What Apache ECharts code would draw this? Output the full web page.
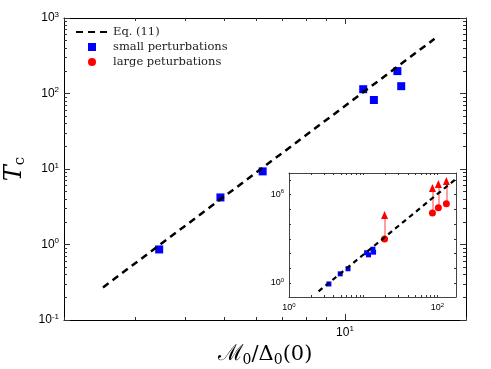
<!DOCTYPE html>
<html>
<head>
<meta charset="utf-8">
<title>Tc vs M0/Delta0</title>
<script src="https://cdn.jsdelivr.net/npm/echarts@6/dist/echarts.min.js"></script>
<style>
    html, body { margin: 0; padding: 0; background: #fff; }
    #chart { width: 491px; height: 369px; }
</style>
</head>
<body>
<div id="chart"></div>
<script>
// Eq. (11), main panel
var eqX = [2.5, 16.7];
var eqY = [0.27, 530];
// small perturbations (blue squares)
var smallX = [3.45, 4.9, 6.24, 11.1, 11.8, 13.5, 13.8];
var smallY = [0.86, 4.2, 9.3, 114, 82, 198, 125];
// Eq. (11), inset
var eqInsetX = [2.5, 178];
var eqInsetY = [0.27, 1.2e7];
// large peturbations (red circles) + arrow heads
var largeX = [19.4, 85.7, 103, 132];
var largeY = [980, 5.8e4, 1.3e5, 2.4e5];
var arrowY = [4.2e4, 2.9e6, 5.4e6, 8.7e6];

// tick values
var mainXMajor = [10];
var mainXMinor = [2, 3, 4, 5, 6, 7, 8, 9, 20];
var mainYMajor = [0.1, 1, 10, 100, 1000];
var insetXLabels = [1, 100];
var insetYLabels = [1, 1e6];

function minorsOf(lo, hi) {
    var out = [];
    for (var d = lo; d < hi; d *= 10)
        for (var k = 2; k <= 9; k++) out.push(d * k);
    return out;
}
var mainYMinor = minorsOf(0.1, 1000);
var insetXMinor = minorsOf(1, 100).concat([1, 10, 100]);
var insetYMinor = [1, 10, 100, 1000, 1e4, 1e5, 1e6, 1e7];

function zip(a, b) {
    var r = [];
    for (var i = 0; i < a.length; i++) r.push([a[i], b[i]]);
    return r;
}

function powLabel(v) {
    var e = Math.round(Math.log10(v));
    return '{b|10}{e|' + e + '}';
}
function powRich(size) {
    return {
        b: { fontSize: size, fontFamily: 'Liberation Sans', color: '#000', lineHeight: size + 3 },
        e: { fontSize: Math.round(size * 0.65), fontFamily: 'Liberation Sans', color: '#000',
             verticalAlign: 'top', lineHeight: Math.round(size * 0.65) }
    };
}

// one log axis, pass in what differs
function logAxis(grid, pos, min, max, ticks, len, labels, size, color, extra) {
    var ax = {
        type: 'log', logBase: 10, gridIndex: grid, position: pos,
        min: min, max: max,
        splitLine: { show: false },
        axisLine: { show: !!color, lineStyle: { color: color || '#000', width: 1 } },
        axisTick: { show: true, inside: true, length: len, customValues: ticks,
                    lineStyle: { color: '#333', width: 1 } },
        axisLabel: labels ? { show: true, customValues: labels, formatter: powLabel,
                              rich: powRich(size), margin: 5 } : { show: false }
    };
    for (var k in extra) ax[k] = extra[k];
    return ax;
}

var chart = echarts.init(document.getElementById('chart'));

var arrowLines = [];
for (var i = 0; i < largeX.length; i++) {
    arrowLines.push({ coords: [[largeX[i], largeY[i]], [largeX[i], arrowY[i]]] });
}

var option = {
    backgroundColor: '#fff',
    animation: false,
    grid: [
        { left: 64, top: 18, width: 402, height: 302, show: false,
          containLabel: false, outerBoundsMode: 'none' },
        { left: 289, top: 173, width: 167, height: 124, show: true,
          backgroundColor: '#fff', borderWidth: 0,
          containLabel: false, outerBoundsMode: 'none' }
    ],
    legend: {
        orient: 'vertical', left: 70, top: 21,
        itemWidth: 32, itemHeight: 8, itemGap: 3,
        textStyle: { fontFamily: 'DejaVu Serif', fontSize: 11.5, color: '#222' },
        data: [
            { name: 'Eq. (11)', itemStyle: { opacity: 0 } },
            { name: 'small perturbations', icon: 'path://M0,0h10v10h-10z' },
            { name: 'large peturbations', icon: 'circle' }
        ]
    },
    xAxis: [
        logAxis(0, 'bottom', 2, 20, mainXMajor, 6, mainXMajor, 12, '#000', {
            name: '{m|\u2133}{s|0}{n|/\u0394}{s|0}{n|(0)}',
            nameLocation: 'middle', nameGap: 18,
            nameTextStyle: { rich: {
                m: { fontFamily: 'DejaVu Serif', fontSize: 22, color: '#000', lineHeight: 26 },
                n: { fontFamily: 'DejaVu Serif', fontSize: 21, color: '#000', lineHeight: 26 },
                s: { fontFamily: 'DejaVu Serif', fontSize: 14, color: '#000', lineHeight: 14, verticalAlign: 'bottom' }
            } }
        }),
        logAxis(0, 'bottom', 2, 20, mainXMinor, 3, null, 0, null),
        logAxis(0, 'top', 2, 20, mainXMajor, 6, null, 0, '#000'),
        logAxis(0, 'top', 2, 20, mainXMinor, 3, null, 0, null),
        logAxis(1, 'bottom', 1, 178, insetXMinor, 2, insetXLabels, 9, '#444'),
        logAxis(1, 'top', 1, 178, insetXMinor, 2, null, 0, '#444')
    ],
    yAxis: [
        logAxis(0, 'left', 0.1, 1000, mainYMajor, 6, mainYMajor, 12, '#000', {
            name: '{t|T}{c|c}',
            nameLocation: 'middle', nameGap: 33, nameRotate: 90,
            nameTextStyle: { rich: {
                t: { fontFamily: 'DejaVu Serif', fontStyle: 'italic', fontSize: 24, color: '#000', lineHeight: 26 },
                c: { fontFamily: 'DejaVu Serif', fontSize: 15, color: '#000', lineHeight: 15, verticalAlign: 'bottom' }
            } }
        }),
        logAxis(0, 'left', 0.1, 1000, mainYMinor, 3, null, 0, null),
        logAxis(0, 'right', 0.1, 1000, mainYMajor, 6, null, 0, '#000'),
        logAxis(0, 'right', 0.1, 1000, mainYMinor, 3, null, 0, null),
        logAxis(1, 'left', 0.112, 3.0e7, insetYMinor, 2, insetYLabels, 9, '#444'),
        logAxis(1, 'right', 0.112, 3.0e7, insetYMinor, 2, null, 0, '#444')
    ],
    series: [
        {
            name: 'Eq. (11)', type: 'line', xAxisIndex: 0, yAxisIndex: 0,
            data: zip(eqX, eqY), symbol: 'none',
            lineStyle: { color: '#000', width: 2.5, type: [7, 5] },
            itemStyle: { color: '#000', opacity: 0 }
        },
        {
            name: 'small perturbations', type: 'scatter', xAxisIndex: 0, yAxisIndex: 0,
            data: zip(smallX, smallY), symbol: 'rect', symbolSize: 8,
            itemStyle: { color: '#0000ff', opacity: 1 }
        },
        {
            name: 'eq inset', type: 'line', xAxisIndex: 4, yAxisIndex: 4,
            data: zip(eqInsetX, eqInsetY), symbol: 'none',
            lineStyle: { color: '#000', width: 2.2, type: [5, 4] }
        },
        {
            name: 'small inset', type: 'scatter', xAxisIndex: 4, yAxisIndex: 4,
            data: zip(smallX, smallY), symbol: 'rect', symbolSize: 5,
            itemStyle: { color: '#0000ff', opacity: 1 }
        },
        {
            name: 'arrows', type: 'lines', coordinateSystem: 'cartesian2d',
            xAxisIndex: 4, yAxisIndex: 4, data: arrowLines, symbol: 'none',
            lineStyle: { color: '#ff8080', width: 1.5, opacity: 1 }
        },
        {
            name: 'arrow heads', type: 'scatter', xAxisIndex: 4, yAxisIndex: 4,
            data: zip(largeX, arrowY), symbol: 'triangle', symbolSize: [7, 8],
            itemStyle: { color: '#ff0000', opacity: 1 }
        },
        {
            name: 'large peturbations', type: 'scatter', xAxisIndex: 4, yAxisIndex: 4,
            data: zip(largeX, largeY), symbol: 'circle', symbolSize: 7,
            itemStyle: { color: '#ff0000', opacity: 1 }
        }
    ]
};

chart.setOption(option);
</script>
</body>
</html>
